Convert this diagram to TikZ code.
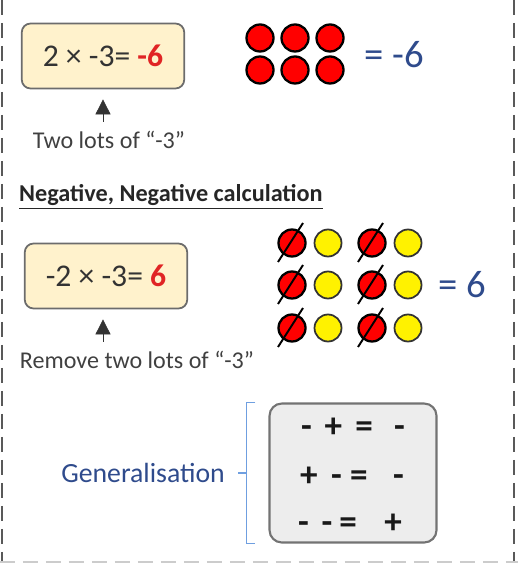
\documentclass[tikz,border=0pt]{standalone}
\usepackage{fontspec}
\setmainfont{Carlito}
\usetikzlibrary{arrows.meta, positioning}

\definecolor{sumfill}{HTML}{FFF2CC}
\definecolor{ansred}{HTML}{E02424}
\definecolor{numblue}{HTML}{2F4B8C}
\definecolor{bracketblue}{HTML}{6F9FE0}
\definecolor{genfill}{HTML}{EDEDED}

\begin{document}
\begin{tikzpicture}[
    x=0.02cm, y=-0.02cm,
    % Styles
    sum_box/.style={draw=gray!85!black, fill=sumfill, line width=1pt, rounded corners=5pt, minimum width=3.25cm, minimum height=1.3cm, font=\fontsize{18}{21}\selectfont, text=black!80},
    note/.style={font=\fontsize{13.7}{16}\selectfont, text=black!75},
    result/.style={font=\fontsize{22}{26}\selectfont, text=numblue},
    neg_counter/.style={circle, draw=black, fill=red, line width=1.3pt, minimum size=0.54cm, inner sep=0pt},
    pos_counter/.style={circle, draw=black!80, fill=yellow, line width=1pt, minimum size=0.54cm, inner sep=0pt},
    strike/.style={line width=1.1pt, black},
    gen_box/.style={draw=gray!90!black, fill=genfill, line width=1.2pt, rounded corners=7pt, minimum width=3.34cm, minimum height=2.78cm},
    sign_row/.style={font=\fontsize{20}{24}\selectfont\bfseries, text=black!90},
    bracket/.style={draw=bracketblue, line width=0.9pt},
    border/.style={gray!70!black, line width=1.1pt, dash pattern=on 0.3cm off 0.16cm},
    arrow/.style={-{Triangle[length=3mm, width=3mm]}, thin, black!80}
]
    \useasboundingbox (0,0) rectangle (518,563);

    % 0. FRAME
    \draw[border] (2,0) -- (2,563);
    \draw[border] (514,0) -- (514,563);
    \draw[border, gray!40] (0,562) -- (518,562);

    % 1. NEGATIVE x POSITIVE
    \node[sum_box] (sum1) at (103,56) {2 × -3= {\color{ansred}\bfseries -6}};
    \node[note] (lots1) at (109,140) {Two lots of “-3”};
    \draw[arrow, shorten <=2pt, shorten >=0.2cm] (sum1.south |- lots1.north) -- (sum1.south);

    % red counters, two rows of three
    \foreach \xx [count=\i] in {260,295,330}
        \foreach \yy [count=\j] in {38,70}
            \node[neg_counter] (a\i\j) at (\xx,\yy) {};
    \node[result, anchor=west] (res1) at (358,55) {= -6};

    % 2. NEGATIVE x NEGATIVE
    \node[font=\fontsize{13.8}{16}\selectfont\bfseries, text=black!85, anchor=west] (title) at (13,197) {\underline{Negative, Negative calculation}};

    \node[sum_box] (sum2) at (106,276) {-2 × -3= {\color{ansred}\bfseries 6}};
    \node[note] (lots2) at (137,360) {Remove two lots of “-3”};
    \draw[arrow, shorten <=2pt, shorten >=0.2cm] ([xshift=-0.06cm]sum2.south |- lots2.north) -- ([xshift=-0.06cm]sum2.south);

    % zero pairs, red ones crossed out
    \foreach \xx [count=\i] in {292,328,372,408}
        \foreach \yy [count=\j] in {243,285,328} {
            \ifodd\i
                \node[neg_counter] (b\i\j) at (\xx,\yy) {};
                \draw[strike] ([shift={(-14,19)}]b\i\j.center) -- ([shift={(11,-20)}]b\i\j.center);
            \else
                \node[pos_counter] (b\i\j) at (\xx,\yy) {};
            \fi
        }
    \node[result, anchor=west] (res2) at (432,285) {= 6};

    % 3. GENERALISATION
    \node[gen_box] (rules) at (353,473) {};
    \node[sign_row] (row1) at (353,428) {-\hspace{.36em}+\hspace{.38em}=\hspace{.6em}-};
    \node[sign_row] (row2) at (352,477) {+\hspace{.38em}-\hspace{.24em}=\hspace{.72em}-};
    \node[sign_row] (row3) at (350,524) {-\hspace{.36em}-\hspace{.2em}=\hspace{.78em}+};

    \node[font=\fontsize{15.8}{19}\selectfont, text=numblue] (gen) at (143,473) {Generalisation};
    \draw[bracket] ([shift={(-13,0)}]rules.north west) -- ([shift={(-22,0)}]rules.north west)
        -- ([shift={(-22,0)}]rules.south west) -- ([shift={(-13,0)}]rules.south west);
    \draw[bracket] ([shift={(-22,0)}]rules.west) -- ([shift={(-30,0)}]rules.west);

\end{tikzpicture}
\end{document}
